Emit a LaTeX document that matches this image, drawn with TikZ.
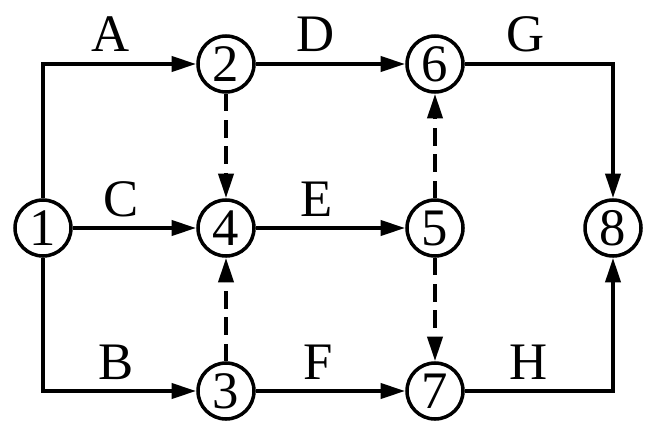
\documentclass[tikz,border=0pt]{standalone}
\usepackage{fontspec}
\setmainfont{Liberation Serif}
\usetikzlibrary{positioning,arrows.meta}

\begin{document}
\begin{tikzpicture}[
    on grid,
    event/.style={circle, draw, line width=2pt, minimum size=1.12cm, inner sep=0pt, font=\fontsize{30}{36}\selectfont},
    arrow/.style={-{Triangle[length=14pt, width=8.5pt]}, line width=2.2pt},
    dummy/.style={arrow, dash pattern=on 10pt off 5pt},
    act/.style={font=\fontsize{30}{36}\selectfont, anchor=base, inner sep=0pt, yshift=6.3pt}
]
    \useasboundingbox (0,0) rectangle (13.14,8.74);

    % Events
    \node[event] (n1) at (0.86,4.18) {1};
    \node[event, right=3.66cm of n1] (n4) {4};
    \node[event, above=3.28cm of n4] (n2) {2};
    \node[event, below=3.26cm of n4] (n3) {3};
    \node[event, right=4.18cm of n4] (n5) {5};
    \node[event, above=3.28cm of n5] (n6) {6};
    \node[event, below=3.26cm of n5] (n7) {7};
    \node[event, right=3.56cm of n5] (n8) {8};

    % Activities
    \draw[arrow] (n1) |- node[act, pos=0.72, yshift=1pt] {A} (n2);
    \draw[arrow] (n1) |- node[act, pos=0.74] {B} (n3);
    \draw[arrow] (n1) -- node[act, pos=0.39] {C} (n4);
    \draw[arrow] (n2) -- node[act, pos=0.40, yshift=1pt] {D} (n6);
    \draw[arrow] (n4) -- node[act, pos=0.41] {E} (n5);
    \draw[arrow] (n3) -- node[act, pos=0.42] {F} (n7);
    \draw[arrow] (n6) -| node[act, pos=0.205, yshift=1pt] {G} (n8);
    \draw[arrow] (n7) -| node[act, pos=0.215] {H} (n8);

    % Dummy activities
    \draw[dummy] (n2) -- (n4);
    \draw[dummy] (n3) -- (n4);
    \draw[dummy] (n5) -- (n6);
    \draw[dummy] (n5) -- (n7);
\end{tikzpicture}
\end{document}
